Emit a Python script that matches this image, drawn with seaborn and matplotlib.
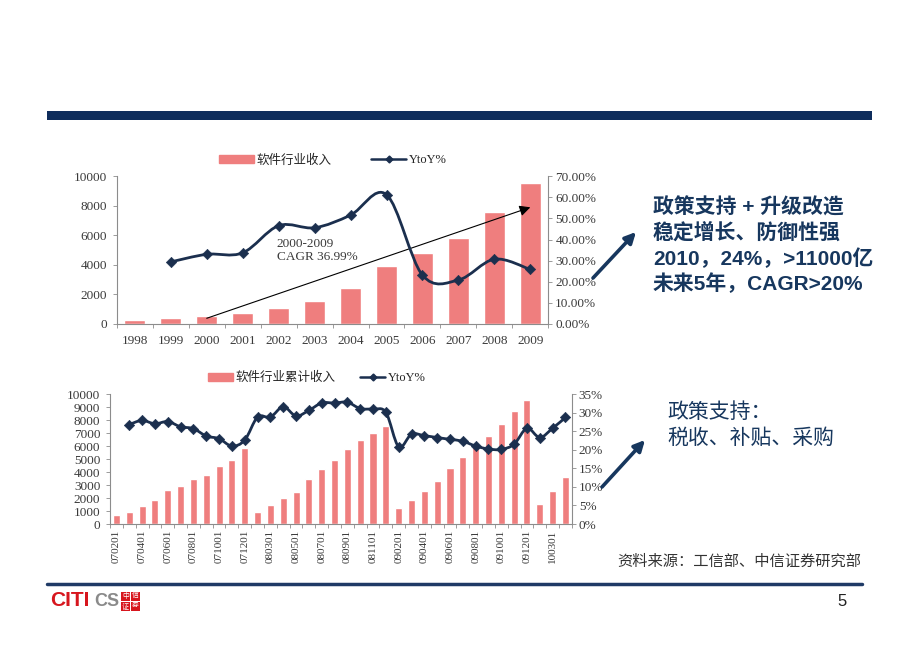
import matplotlib
matplotlib.use('Agg')
import matplotlib.pyplot as plt
from matplotlib.path import Path
from matplotlib.patches import PathPatch, Rectangle, FancyArrowPatch
from matplotlib.lines import Line2D
from matplotlib.ticker import FormatStrFormatter
import numpy as np
import pandas as pd
import seaborn as sns

# annual software revenue (亿元) and growth
years = ['1998', '1999', '2000', '2001', '2002', '2003',
         '2004', '2005', '2006', '2007', '2008', '2009']
annual_revenue = [280, 390, 550, 710, 1070, 1580, 2450, 3910, 4770, 5820, 7600, 9550]
annual_yoy = [np.nan, 29.4, 33.0, 33.7, 46.6, 45.6, 51.6, 61.3, 23.1, 20.8, 30.7, 25.8]

# monthly cumulative revenue and growth
months = ['070201', '070301', '070401', '070501', '070601', '070701', '070801',
          '070901', '071001', '071101', '071201',
          '080201', '080301', '080401', '080501', '080601', '080701', '080801',
          '080901', '081001', '081101', '081201',
          '090201', '090301', '090401', '090501', '090601', '090701', '090801',
          '090901', '091001', '091101', '091201',
          '100201', '100301', '100401']
cum_revenue = [690, 930, 1380, 1850, 2620, 2950, 3430, 3800, 4460, 4930, 5820,
               920, 1480, 2000, 2490, 3500, 4220, 4920, 5800, 6470, 6990, 7580,
               1250, 1850, 2540, 3310, 4280, 5130, 5900, 6800, 7690, 8720, 9540,
               1540, 2540, 3590]
cum_yoy = [np.nan, 26.8, 27.9, 27.0, 27.6, 26.2, 25.7, 23.7, 23.0, 21.0, 22.6,
           28.8, 28.8, 31.6, 29.1, 30.6, 32.6, 32.6, 32.8, 31.1, 30.9, 30.1,
           20.8, 24.2, 23.8, 23.3, 22.8, 22.3, 21.0, 20.2, 20.1, 21.5, 25.8,
           23.3, 25.8, 28.7]

bar_color = '#EF7E7E'
line_color = '#1B2F4E'
navy = '#17375E'
axis_grey = '#8c8c8c'
label_color = '#3a3a3a'

sns.set_theme(style='white')
plt.rcParams['font.family'] = ['Liberation Serif', 'Noto Sans CJK SC']
sans = ['Liberation Sans', 'Noto Sans CJK SC']


def smooth_path(xs, ys):
    # Excel-like smoothed line (Catmull-Rom drawn as bezier segments)
    pts = np.column_stack([xs, ys]).astype(float)
    n = len(pts)
    verts, codes = [pts[0]], [Path.MOVETO]
    for i in range(n - 1):
        p0, p1 = pts[max(i - 1, 0)], pts[i]
        p2, p3 = pts[i + 1], pts[min(i + 2, n - 1)]
        verts += [p1 + (p2 - p0) / 6, p2 - (p3 - p1) / 6, p2]
        codes += [Path.CURVE4] * 3
    return Path(verts, codes)


def combo_chart(ax, cats, bars, yoy, width, ymax_l, step_l,
                ymax_r, step_r, fmt_r, fs):
    df = pd.DataFrame({'cat': cats, 'rev': bars, 'yoy': yoy})
    df['pos'] = np.arange(len(df))
    sns.barplot(data=df, x='cat', y='rev', color=bar_color, width=width,
                saturation=1, ax=ax)
    ax.set_ylim(0, ymax_l)
    ax.set_yticks(np.arange(0, ymax_l + 1, step_l))
    ax.set_xlabel('')
    ax.set_ylabel('')
    ax2 = ax.twinx()
    ax2.set_ylim(0, ymax_r)
    ax2.set_yticks(np.arange(0, ymax_r + 0.001, step_r))
    ax2.yaxis.set_major_formatter(FormatStrFormatter(fmt_r))
    ln = df.dropna()
    ax2.add_patch(PathPatch(smooth_path(ln['pos'], ln['yoy']), fill=False,
                            edgecolor=line_color, lw=2.0))
    sns.scatterplot(data=ln, x='pos', y='yoy', marker='D', s=28,
                    color=line_color, edgecolor=line_color, ax=ax2, zorder=5)
    ax2.set_xlabel('')
    ax2.set_ylabel('')
    for a in (ax, ax2):
        for s in a.spines.values():
            s.set_color(axis_grey)
            s.set_linewidth(0.8)
        a.spines['top'].set_visible(False)
    ax.spines['right'].set_visible(False)
    ax2.spines['left'].set_visible(False)
    ax2.spines['bottom'].set_visible(False)
    ax.tick_params(axis='y', left=True, length=3, width=0.6, color=axis_grey,
                   labelsize=fs, labelcolor=label_color, pad=4)
    ax2.tick_params(axis='y', right=True, length=3, width=0.6, color=axis_grey,
                    labelsize=fs, labelcolor=label_color, pad=2)
    ax.set_xticks(np.arange(-0.5, len(df), 1), minor=True)
    ax.tick_params(axis='x', which='minor', bottom=True, length=3,
                   width=0.6, color=axis_grey)
    ax.tick_params(axis='x', which='major', length=0, labelcolor=label_color)
    ax.set_xlim(-0.5, len(df) - 0.5)
    handles = [Rectangle((0, 0), 1, 1, color=bar_color),
               Line2D([], [], color=line_color, lw=1.8, marker='D',
                      markersize=3.5)]
    return ax2, handles


fig = plt.figure(figsize=(9.2, 6.53), dpi=100)

# ---- top chart ----
ax_top = fig.add_axes([0.127, 0.504, 0.469, 0.226])
ax_top2, h = combo_chart(ax_top, years, annual_revenue, annual_yoy,
                         0.58, 10000, 2000, 70, 10, '%.2f%%', 9.5)
ax_top.tick_params(axis='x', labelsize=9.5, pad=8)
ax_top.legend(h, ['软件行业收入', 'YtoY%'], loc='center',
              bbox_to_anchor=(0.5, 1.108), ncol=2, frameon=False,
              fontsize=9, handlelength=2.8, handleheight=0.7,
              columnspacing=3.2, handletextpad=0.2)
ax_top.annotate('', xy=(11, 7900), xytext=(2, 380),
                arrowprops=dict(arrowstyle='-|>', color='black', lw=0.8,
                                mutation_scale=16, shrinkA=0, shrinkB=0))
ax_top.text(3.95, 5000, '2000-2009\nCAGR 36.99%', fontsize=9.5,
            color=label_color, va='center', ha='left', linespacing=1.1)

# ---- bottom chart ----
ax_bot = fig.add_axes([0.1196, 0.1975, 0.502, 0.199])
ax_bot2, h = combo_chart(ax_bot, months, cum_revenue, cum_yoy,
                         0.55, 10000, 1000, 35, 5, '%d%%', 9.5)
ax_bot.set_xticks(np.arange(0, len(months), 2))
ax_bot.set_xticklabels(months[::2], rotation=90, fontsize=8)
ax_bot.tick_params(axis='x', which='major', pad=4)
ax_bot.legend(h, ['软件行业累计收入', 'YtoY%'], loc='center',
              bbox_to_anchor=(0.448, 1.123), ncol=2, frameon=False,
              fontsize=9, handlelength=2.0, handleheight=0.6,
              columnspacing=2.0, handletextpad=0.2)


def fx(x):
    return x / 920


def fy(y):
    return 1 - y / 653


# slide decoration
fig.add_artist(Rectangle((fx(47), fy(120)), fx(872) - fx(47), 9 / 653,
                         transform=fig.transFigure, color='#0F2D5C', lw=0))
fig.add_artist(Line2D([fx(47), fx(862)], [fy(584), fy(584)],
                      transform=fig.transFigure, color='#1F3A66', lw=2.5))

# side notes
top_notes = ['政策支持 + 升级改造', '稳定增长、防御性强',
             '2010，24%，>11000亿', '未来5年，CAGR>20%']
for i, t in enumerate(top_notes):
    fig.text(fx(653), fy(207 + i * 25.7), t, family=sans, fontsize=15,
             fontweight='bold', color=navy, va='center', ha='left')
fig.text(fx(667), fy(412), '政策支持：', family=sans, fontsize=15,
         color=navy, va='center', ha='left')
fig.text(fx(667), fy(438), '税收、补贴、采购', family=sans, fontsize=15,
         color=navy, va='center', ha='left')

for start, end in [((593, 278), (636, 232)), ((602, 487), (645, 440))]:
    fig.add_artist(FancyArrowPatch((fx(start[0]), fy(start[1])),
                                   (fx(end[0]), fy(end[1])),
                                   transform=fig.transFigure,
                                   arrowstyle='-|>', mutation_scale=16,
                                   lw=2.6, color=navy, shrinkA=0, shrinkB=0))

fig.text(fx(617), fy(562), '资料来源：工信部、中信证券研究部', family=sans,
         fontsize=11, color='#333333', va='center', ha='left')

# footer logo and page number
fig.text(fx(50), fy(601), 'CITI', family=sans, fontsize=15, fontweight='bold',
         color='#D7161E', va='center', ha='left')
fig.text(fx(94), fy(601), 'CS', family=sans, fontsize=13, fontweight='bold',
         color='#8a8a8a', va='center', ha='left')
for k, ch in enumerate('中信证券'):
    cx = 121 + (k % 2) * 10
    cy = 592 + (k // 2) * 10
    fig.add_artist(Rectangle((fx(cx), fy(cy + 9)), 9 / 920, 9 / 653,
                             transform=fig.transFigure, color='#D7161E', lw=0))
    fig.text(fx(cx + 4.5), fy(cy + 4.5), ch, family=sans, fontsize=5,
             color='white', va='center', ha='center')
fig.text(fx(842), fy(601), '5', family=sans, fontsize=12, color='#222222',
         va='center', ha='center')

fig.savefig('out.png', dpi=100, facecolor='white')
